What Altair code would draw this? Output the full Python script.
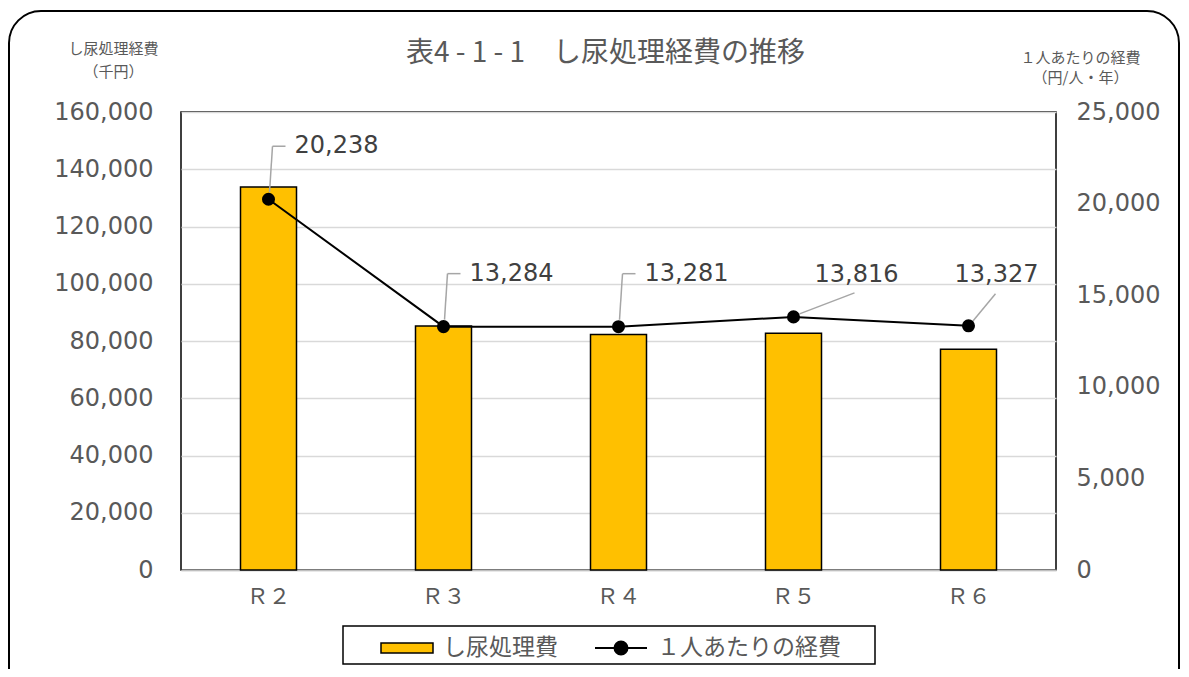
import altair as alt
import pandas as pd

# ---- data ----
categories = ["Ｒ２", "Ｒ３", "Ｒ４", "Ｒ５", "Ｒ６"]
cost_total = [133800, 85200, 82300, 82700, 77100]          # し尿処理経費（千円）
cost_per_person = [20238, 13284, 13281, 13816, 13327]      # １人あたりの経費（円/人・年）
bar_name = "し尿処理費"
line_name = "１人あたりの経費"
left_ticks = [0, 20000, 40000, 60000, 80000, 100000, 120000, 140000, 160000]
right_ticks = [0, 5000, 10000, 15000, 20000, 25000]

df = pd.DataFrame({
    "cat": categories,
    "total": cost_total,
    "per": cost_per_person,
    "s1": bar_name,
    "s2": line_name,
    "label": [f"{v:,}" for v in cost_per_person],
})

W, H = 875, 458
FONT_NUM = "DejaVu Sans"
FONT_JP = "Noto Sans CJK JP"
GRAY = "#595959"
LEADER = "#A6A6A6"

base = alt.Chart(df)

x_enc = alt.X(
    "cat:N", sort=categories,
    scale=alt.Scale(paddingInner=0.68, paddingOuter=0.34),
    axis=alt.Axis(title=None, labelAngle=0, labelFont=FONT_JP, labelFontSize=22,
                  labelColor=GRAY, labelPadding=16, ticks=False, grid=False,
                  domainColor="#BFBFBF", domainWidth=1.5),
)

y_left = alt.Y(
    "total:Q", scale=alt.Scale(domain=[0, 160000], nice=False),
    axis=alt.Axis(values=left_ticks, format=",.0f", labelFont=FONT_NUM, labelFontSize=24,
                  labelColor=GRAY, labelPadding=28, ticks=False, domain=False,
                  grid=True, gridColor="#D9D9D9", gridWidth=1.5, labelOverlap=False,
                  title=["し尿処理経費", "（千円）"], titleAngle=0, titleX=-68, titleY=-59,
                  titleFont=FONT_JP, titleFontSize=15, titleFontWeight="normal",
                  titleColor=GRAY, titleLineHeight=23, titleAlign="center",
                  titleBaseline="alphabetic"),
)

y_right = alt.Y(
    "per:Q", scale=alt.Scale(domain=[0, 25000], nice=False),
    axis=alt.Axis(orient="right", values=right_ticks, format=",.0f", labelFont=FONT_NUM,
                  labelFontSize=24, labelColor=GRAY, labelPadding=20, ticks=False,
                  domain=False, grid=False, labelOverlap=False,
                  title=["１人あたりの経費", "（円/人・年）"], titleAngle=0, titleX=24, titleY=-50,
                  titleFont=FONT_JP, titleFontSize=15, titleFontWeight="normal",
                  titleColor=GRAY, titleLineHeight=20, titleAlign="center",
                  titleBaseline="alphabetic"),
)

bars = base.mark_bar(stroke="black", strokeWidth=1.5).encode(
    x=x_enc,
    y=y_left,
    fill=alt.Fill("s1:N", scale=alt.Scale(domain=[bar_name], range=["#FFC000"]),
                  legend=alt.Legend(orient="none", legendX=199, legendY=509, title=None,
                                    symbolType="M-1,-0.19H1V0.19H-1Z", symbolSize=2704,
                                    symbolStrokeColor="black", symbolStrokeWidth=1.5,
                                    labelFont=FONT_JP, labelFontSize=23, labelColor=GRAY,
                                    labelOffset=9, labelLimit=300, padding=0)),
)

line = base.mark_line(strokeWidth=2).encode(
    x=x_enc,
    y=y_right,
    stroke=alt.Stroke("s2:N", scale=alt.Scale(domain=[line_name], range=["black"]),
                      legend=alt.Legend(orient="none", legendX=413, legendY=509, title=None,
                                        symbolType="M-1,0H1M-0.25,0A0.25,0.25,0,1,1,0.25,0A0.25,0.25,0,1,1,-0.25,0Z",
                                        symbolSize=2704, symbolFillColor="black",
                                        symbolStrokeColor="black", symbolStrokeWidth=2,
                                        labelFont=FONT_JP, labelFontSize=23, labelColor=GRAY,
                                        labelOffset=9, labelLimit=300, padding=0)),
)

points = base.mark_circle(size=170, color="black", opacity=1).encode(x=x_enc, y=y_right)


def leader(cats, xo, yo, x2o, y2o):
    return base.transform_filter(
        alt.FieldOneOfPredicate(field="cat", oneOf=cats)
    ).mark_rule(color=LEADER, strokeWidth=1.5, xOffset=xo, yOffset=yo,
                x2Offset=x2o, y2Offset=y2o).encode(
        x=x_enc, x2=alt.X2("cat:N"), y=y_right, y2=alt.Y2("per:Q"))


def labels(cats, align, dx, dy):
    return base.transform_filter(
        alt.FieldOneOfPredicate(field="cat", oneOf=cats)
    ).mark_text(align=align, baseline="middle", dx=dx, dy=dy, font=FONT_NUM,
                fontSize=24, color="#404040").encode(x=x_enc, y=y_right, text="label:N")


grpA = categories[:3]
line_layer = alt.layer(
    leader(grpA, 1, -7, 4, -53),
    leader(grpA, 4, -53, 17, -53),
    leader([categories[3]], 6, -3, 61, -24),
    leader([categories[4]], 3, -3, 27, -32),
    line, points,
    labels(grpA, "left", 26, -53),
    labels([categories[3]], "center", 63, -42),
    labels([categories[4]], "center", 28, -51),
)

deco = pd.DataFrame({"k": [0]})
frame = alt.Chart(deco).mark_rect(fill="transparent", stroke="black", strokeWidth=2,
                                  cornerRadius=32).encode(
    x=alt.value(-172), x2=alt.value(998), y=alt.value(-101), y2=alt.value(620))
legend_box = alt.Chart(deco).mark_rect(fill="white", stroke="black", strokeWidth=1.5).encode(
    x=alt.value(162), x2=alt.value(694), y=alt.value(514), y2=alt.value(552))

chart = alt.layer(frame, bars, line_layer, legend_box).resolve_scale(
    y="independent"
).properties(
    width=W, height=H,
    title=alt.TitleParams("表4 - 1 - 1　し尿処理経費の推移", font=FONT_JP, fontSize=28,
                          color=GRAY, fontWeight="normal", anchor="middle", dx=-13, dy=62),
    autosize=alt.AutoSizeParams(type="none"),
    padding={"left": 173, "top": 104, "right": 125, "bottom": 99},
    background="white",
).configure_view(stroke="black", strokeWidth=1.5)

chart.save("out.html", embed_options={"renderer": "svg", "actions": False})
